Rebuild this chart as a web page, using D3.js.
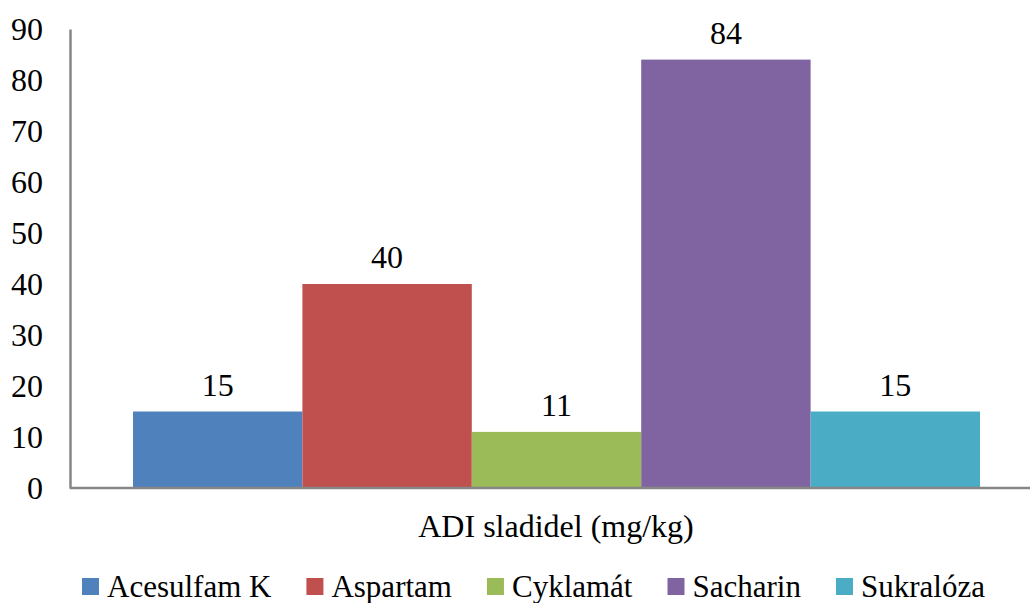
<!DOCTYPE html>
<html><head><meta charset="utf-8">
<script src="https://cdn.jsdelivr.net/npm/d3@7"></script>
<style>body{margin:0;background:#fff}svg{display:block}text{font-family:"Liberation Serif","Times New Roman",serif;fill:#000}</style>
</head><body><svg id="c" width="1030" height="603"></svg>
<script>
const series = ["Acesulfam K","Aspartam","Cyklamát","Sacharin","Sukralóza"];
const values = [15,40,11,84,15];
const colors = ["#4F81BD","#C0504D","#9BBB59","#8064A2","#4BACC6"];
const yTicks = [0,10,20,30,40,50,60,70,80,90];
const categoryLabel = "ADI sladidel (mg/kg)";

const svg = d3.select("#c");
const y = d3.scaleLinear().domain([0,90]).range([488,29]);
const x = d3.scaleBand().domain(series).range([133,980]).padding(0);
const fs = 32;

// bars
svg.selectAll("rect.bar").data(series).join("rect")
  .attr("x", d=>x(d)).attr("width", x.bandwidth())
  .attr("y", (d,i)=>y(values[i])).attr("height", (d,i)=>y(0)-y(values[i]))
  .attr("fill",(d,i)=>colors[i]);

// value labels
svg.selectAll("text.val").data(series).join("text")
  .attr("x", d=>x(d)+x.bandwidth()/2).attr("y",(d,i)=>y(values[i])-16)
  .attr("text-anchor","middle").attr("font-size",fs).text((d,i)=>values[i]);

// y axis
const ya = d3.axisLeft(y).tickValues(yTicks).tickSize(0).tickPadding(27);
const gy = svg.append("g").attr("transform","translate(70,0)").call(ya);
gy.select(".domain").attr("stroke","#868686").attr("stroke-width",2.5);
gy.selectAll("text").attr("font-size",fs).attr("font-family","Liberation Serif").attr("fill","#000");

// x axis line
svg.append("line").attr("x1",70).attr("x2",1030).attr("y1",488).attr("y2",488)
  .attr("stroke","#868686").attr("stroke-width",2.5);

svg.append("text").attr("x",556).attr("y",537).attr("text-anchor","middle")
  .attr("font-size",fs).text(categoryLabel);

// legend
const lg = svg.append("g");
let cx = 82;
series.forEach((s,i)=>{
  lg.append("rect").attr("x",cx).attr("y",578).attr("width",17).attr("height",17).attr("fill",colors[i]);
  const t = lg.append("text").attr("x",cx+25).attr("y",597).attr("font-size",31).text(s);
  cx += 25 + t.node().getComputedTextLength() + 35;
});
</script></body></html>
